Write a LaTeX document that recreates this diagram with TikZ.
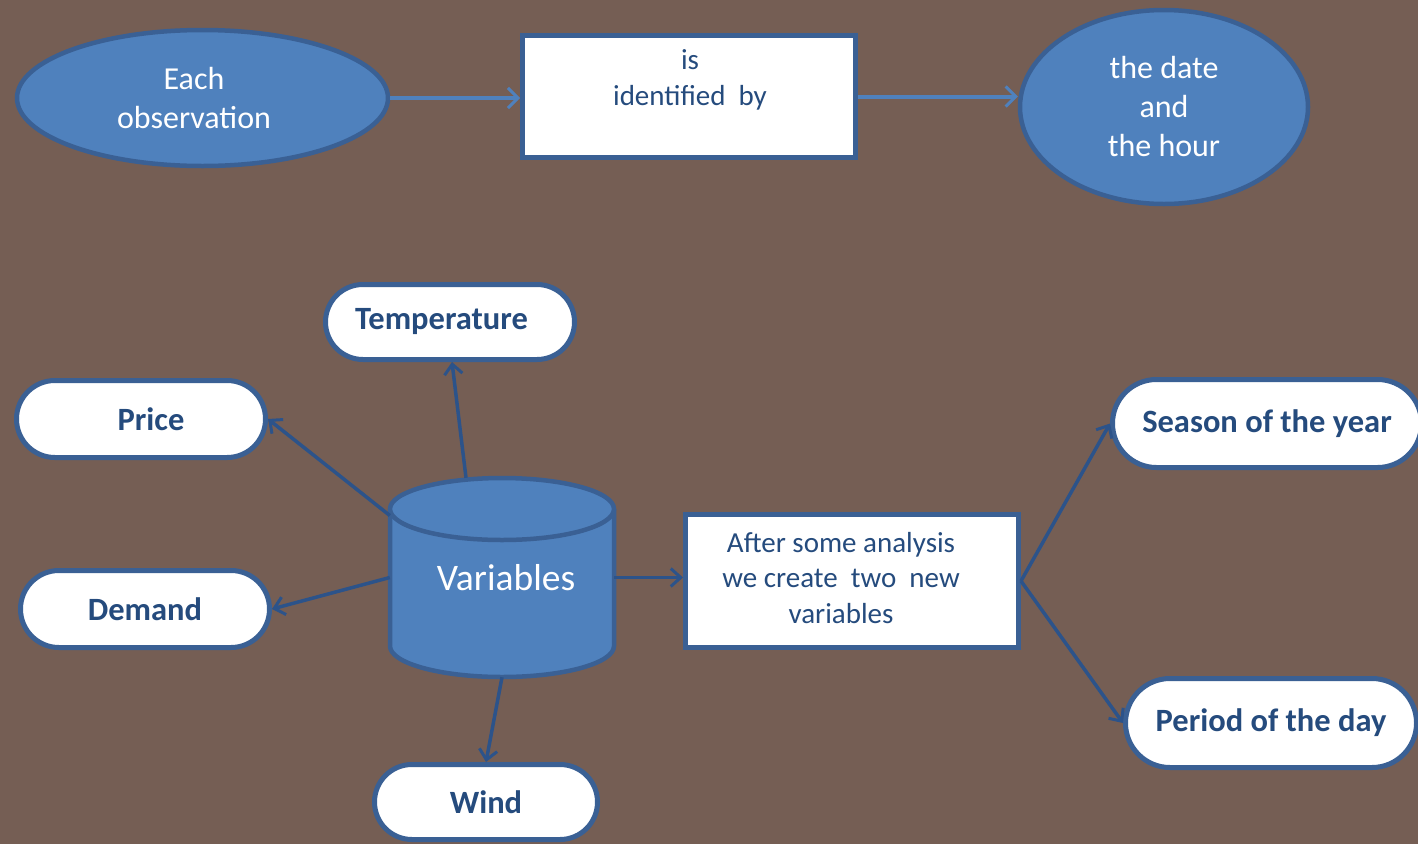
\documentclass[tikz,border=0pt]{standalone}
\usepackage{fontspec}
\setmainfont{Carlito}
\usetikzlibrary{shapes.geometric,shapes.misc,arrows.meta}
\definecolor{bg}{HTML}{755E54}
\definecolor{fillblue}{HTML}{4F81BD}
\definecolor{edgeblue}{HTML}{3A6094}
\definecolor{txtblue}{HTML}{254B7D}
\definecolor{arrdark}{HTML}{2C538A}
\tikzset{
  blueell/.style={ellipse, draw=edgeblue, line width=4.5pt, fill=fillblue, inner sep=0pt},
  whitetxt/.style={text=white, align=center, font=\fontsize{32}{39}\selectfont, inner sep=0pt},
  whitebox/.style={rectangle, draw=edgeblue, line width=5pt, fill=white, inner sep=0pt},
  pill/.style={rounded rectangle, draw=edgeblue, line width=5pt, fill=white, text=txtblue, font=\bfseries\fontsize{32.5}{36}\selectfont, inner sep=0pt},
  pilltxt/.style={text=txtblue, font=\bfseries\fontsize{32.5}{36}\selectfont, inner sep=0pt},
  toparrow/.style={draw=fillblue, line width=4pt, -{Straight Barb[length=10pt,width=20pt,line width=3pt]}},
  lowarrow/.style={draw=arrdark, line width=3.5pt, -{Straight Barb[length=10pt,width=18pt,line width=3pt]}},
  bodytxt/.style={text=txtblue, align=center, font=\fontsize{29}{35.5}\selectfont, inner sep=0pt}
}
\begin{document}
\begin{tikzpicture}[x=1pt,y=-1pt]
\fill[bg] (0,0) rectangle (1418,844);
\useasboundingbox (0,0) rectangle (1418,844);

% top row
\node[blueell, minimum width=371pt, minimum height=136pt] (obs) at (202.5,98) {};
\node[whitetxt] (obstxt) at (194,98) {Each\\observation};
\node[whitebox, minimum width=333pt, minimum height=122pt] (idby) at (689,96.5) {};
\node[bodytxt] (idbytxt) at (690,80) {is\\identified~~by};
\node[blueell, minimum width=288pt, minimum height=194pt] (date) at (1164,107) {};
\node[whitetxt] (datetxt) at (1164,107) {the date\\and\\the hour};
\draw[toparrow] (obs.east) -- (obs.east -| idby.west);
\draw[toparrow] (idby.east) -- (idby.east -| date.west);

% cylinder
\fill[fillblue] (390,509) rectangle (614,646);
\fill[fillblue] (502,646) ellipse [x radius=112, y radius=31];
\draw[edgeblue, line width=4.5pt, line join=round] (390,509) -- (390,646) arc[start angle=180, end angle=0, x radius=112, y radius=31] -- (614,509);
\draw[edgeblue, line width=4.5pt, fill=fillblue] (502,509) ellipse [x radius=112, y radius=31];
\node[inner sep=0pt, minimum width=224pt, minimum height=199pt] (var) at (502,577.5) {};
\node[text=white, inner sep=0pt, font=\fontsize{37.5}{40}\selectfont] (vartxt) at (506,578) {Variables};

% variable boxes
\node[pill, minimum width=249pt, minimum height=75pt] (temp) at (450,322) {};
\node[pilltxt] (temptxt) at (441.5,322) {Temperature};
\node[pill, minimum width=249pt, minimum height=77pt] (price) at (141,419) {};
\node[pilltxt] (pricetxt) at (151,419) {Price};
\node[pill, minimum width=249pt, minimum height=77pt] (demand) at (145,609) {Demand};
\node[pill, minimum width=223pt, minimum height=75pt] (wind) at (486,802) {Wind};

% analysis box
\node[whitebox, minimum width=333pt, minimum height=133pt] (after) at (852,581) {};
\node[bodytxt] (aftertxt) at (841,578) {After some analysis\\we create~~two~~new\\variables};

\node[pill, minimum width=309pt, minimum height=88pt] (season) at (1267,423.5) {Season of the year};
\node[pill, minimum width=291pt, minimum height=89pt] (period) at (1271,723) {Period of the day};

% connectors
\draw[lowarrow] ([xshift=-36pt]var.north) -- ([xshift=2pt]temp.south);
\draw[lowarrow] ([yshift=62pt]var.west) -- (price.east);
\draw[lowarrow] (var.west) -- (demand.east);
\draw[lowarrow] (var.south) -- (wind.north);
\draw[lowarrow] (var.east) -- (var.east -| after.west);
\draw[lowarrow] (after.east) -- (season.west);
\draw[lowarrow] (after.east) -- (period.west);
\end{tikzpicture}
\end{document}
